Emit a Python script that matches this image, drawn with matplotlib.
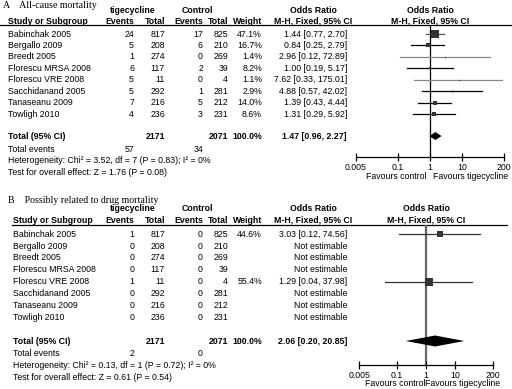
import numpy as np
import matplotlib
matplotlib.use("Agg")
import matplotlib.pyplot as plt

plt.rcParams['font.family'] = ['Liberation Sans', 'DejaVu Sans']

# ---- data ----
studies = ["Babinchak 2005", "Bergallo 2009", "Breedt 2005", "Florescu MRSA 2008",
           "Florescu VRE 2008", "Sacchidanand 2005", "Tanaseanu 2009", "Towligh 2010"]
tige_total = [817, 208, 274, 117, 11, 292, 216, 236]
ctrl_total = [825, 210, 269, 39, 4, 281, 212, 231]

# A: all-cause mortality
a_tige_events = [24, 5, 1, 6, 5, 5, 7, 4]
a_ctrl_events = [17, 6, 0, 2, 0, 1, 5, 3]
a_weight = [47.1, 16.7, 1.4, 8.2, 1.1, 2.9, 14.0, 8.6]
a_or = [1.44, 0.84, 2.96, 1.00, 7.62, 4.88, 1.39, 1.31]
a_lo = [0.77, 0.25, 0.12, 0.19, 0.33, 0.57, 0.43, 0.29]
a_hi = [2.70, 2.79, 72.89, 5.17, 175.01, 42.02, 4.44, 5.92]
a_total = (1.47, 0.96, 2.27)
a_total_events = (57, 34)

# B: possibly related to drug mortality
b_tige_events = [1, 0, 0, 0, 1, 0, 0, 0]
b_ctrl_events = [0, 0, 0, 0, 0, 0, 0, 0]
b_weight = [44.6, None, None, None, 55.4, None, None, None]
b_or = [3.03, None, None, None, 1.29, None, None, None]
b_lo = [0.12, None, None, None, 0.04, None, None, None]
b_hi = [74.56, None, None, None, 37.98, None, None, None]
b_total = (2.06, 0.20, 20.85)
b_total_events = (2, 0)

ticks = [0.005, 0.1, 1, 10, 200]
tick_labels = ["0.005", "0.1", "1", "10", "200"]

W, H = 512, 389
fig = plt.figure(figsize=(W / 100, H / 100), dpi=100)
bg = fig.add_axes([0, 0, 1, 1])
bg.set_xlim(0, W)
bg.set_ylim(H, 0)
bg.axis('off')

FS = 6.3


def t(x, y, s, ha='left', bold=False, **kw):
    bg.text(x, y, s, ha=ha, va='center', fontsize=FS,
            fontweight='bold' if bold else 'normal', **kw)


def panel(ys, left, title, tige_ev, ctrl_ev, weight, odds, lo, hi, total,
          total_events, het, test, row_h, ax_x0, decade, ax_bottom,
          vline_color, vline_w, ci_colors, diamond_h, line_x0, line_x1):
    title_y, group_y, hy, line_y = ys
    bg.text(left - 5, title_y, title, ha='left', va='center', fontsize=7.1,
            family=['Liberation Serif', 'DejaVu Serif'])
    t(133, group_y, "tigecycline", ha='center', bold=True)
    t(197, group_y, "Control", ha='center', bold=True)
    t(left, hy, "Study or Subgroup", bold=True)
    t(134, hy, "Events", ha='right', bold=True)
    t(165, hy, "Total", ha='right', bold=True)
    t(203, hy, "Events", ha='right', bold=True)
    t(228, hy, "Total", ha='right', bold=True)
    t(262, hy, "Weight", ha='right', bold=True)
    t(313, group_y, "Odds Ratio", ha='center', bold=True)
    t(313, hy, "M-H, Fixed, 95% CI", ha='center', bold=True)
    bg.plot([line_x0, line_x1], [line_y, line_y], color='black', lw=0.9)

    rows_y = line_y + 9 + row_h * np.arange(len(studies))
    for i, name in enumerate(studies):
        y = rows_y[i]
        t(left, y, name)
        t(134, y, str(tige_ev[i]), ha='right')
        t(165, y, str(tige_total[i]), ha='right')
        t(203, y, str(ctrl_ev[i]), ha='right')
        t(228, y, str(ctrl_total[i]), ha='right')
        if weight[i] is not None:
            t(262, y, f"{weight[i]:.1f}%", ha='right')
            t(347, y, f"{odds[i]:.2f} [{lo[i]:.2f}, {hi[i]:.2f}]", ha='right')
        else:
            t(347, y, "Not estimable", ha='right')

    tot_y = rows_y[-1] + 2 * row_h - 1
    t(left, tot_y, "Total (95% CI)", bold=True)
    t(165, tot_y, str(sum(tige_total)), ha='right', bold=True)
    t(228, tot_y, str(sum(ctrl_total)), ha='right', bold=True)
    t(262, tot_y, "100.0%", ha='right', bold=True)
    t(347, tot_y, f"{total[0]:.2f} [{total[1]:.2f}, {total[2]:.2f}]",
      ha='right', bold=True)
    t(left, tot_y + 13, "Total events")
    t(134, tot_y + 13, str(total_events[0]), ha='right')
    t(203, tot_y + 13, str(total_events[1]), ha='right')
    t(left, tot_y + 24, het)
    t(left, tot_y + 36, test)

    # forest axes, positioned in pixels
    ax_x1 = ax_x0 + decade * (np.log10(200) - np.log10(0.005))
    ax = fig.add_axes([ax_x0 / W, 1 - ax_bottom / H, (ax_x1 - ax_x0) / W,
                       (ax_bottom - line_y) / H])
    ax.set_xscale('log')
    ax.set_xlim(0.005, 200)
    ax.set_ylim(ax_bottom, line_y)
    ax.patch.set_alpha(0)
    for s in ['top', 'left', 'right']:
        ax.spines[s].set_visible(False)
    ax.spines['bottom'].set_linewidth(0.9)
    ax.set_yticks([])
    ax.set_xticks(ticks)
    ax.set_xticklabels(tick_labels, fontsize=FS)
    ax.xaxis.set_minor_locator(matplotlib.ticker.NullLocator())
    ax.tick_params(axis='x', direction='inout', length=6, width=0.9, pad=1)
    ax.axvline(1, color=vline_color, lw=vline_w, zorder=1)

    for i in range(len(studies)):
        if odds[i] is None:
            continue
        y = rows_y[i]
        ax.plot([lo[i], hi[i]], [y, y], color=ci_colors[i], lw=0.9, zorder=2,
                clip_on=False)
        ax.plot(odds[i], y, marker='s', color='#333333', linestyle='none',
                markersize=np.sqrt(weight[i]) * 0.75, markeredgewidth=0,
                zorder=3)
    est, clo, chi = total
    ax.fill([clo, est, chi, est],
            [tot_y, tot_y - diamond_h / 2, tot_y, tot_y + diamond_h / 2],
            color='black', zorder=4, lw=0)

    cx = (ax_x0 + ax_x1) / 2
    t(cx, group_y, "Odds Ratio", ha='center', bold=True)
    t(cx, hy, "M-H, Fixed, 95% CI", ha='center', bold=True)
    t(ax_x0 + decade * 1.25, ax_bottom + 19, "Favours control", ha='center')
    t(ax_x0 + decade * 3.55, ax_bottom + 19, "Favours tigecycline", ha='center')


panel((5, 10, 21, 25), 8, "A    All-cause mortality", a_tige_events,
      a_ctrl_events, a_weight, a_or, a_lo, a_hi, a_total, a_total_events,
      "Heterogeneity: Chi\u00b2 = 3.52, df = 7 (P = 0.83); I\u00b2 = 0%",
      "Test for overall effect: Z = 1.76 (P = 0.08)",
      row_h=11.45, ax_x0=355.7, decade=32.3, ax_bottom=157,
      vline_color='black', vline_w=0.9,
      ci_colors=['#555555', 'black', '#888888', 'black', '#888888',
                 'black', 'black', 'black'],
      diamond_h=8, line_x0=0, line_x1=511)

panel((200, 208.5, 220, 225), 13, "B    Possibly related to drug mortality",
      b_tige_events, b_ctrl_events, b_weight, b_or, b_lo, b_hi, b_total,
      b_total_events,
      "Heterogeneity: Chi\u00b2 = 0.13, df = 1 (P = 0.72); I\u00b2 = 0%",
      "Test for overall effect: Z = 0.61 (P = 0.54)",
      row_h=12.0, ax_x0=359.3, decade=29.0, ax_bottom=365,
      vline_color='#666666', vline_w=1.6,
      ci_colors=['#333333'] * 8,
      diamond_h=11, line_x0=12, line_x1=507)

fig.savefig("out.png", dpi=100)
